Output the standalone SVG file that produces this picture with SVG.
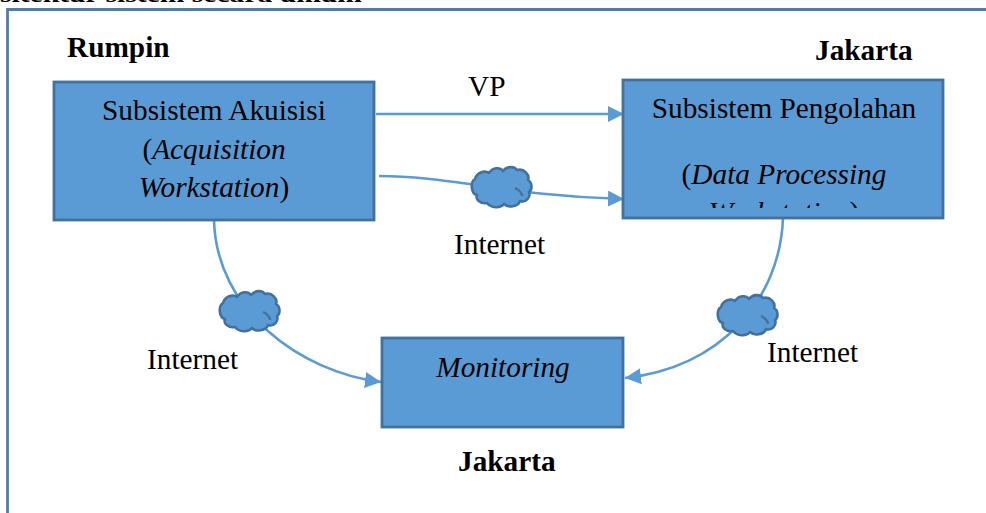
<svg xmlns="http://www.w3.org/2000/svg" width="986" height="513" viewBox="0 0 986 513">
<style>
text{font-family:"Liberation Serif","Times New Roman",serif;fill:#000;font-size:29.300px}
.b{font-weight:bold}
.i{font-style:italic}
.m{text-anchor:middle}
.box{fill:#5b9bd5;stroke:#41719c;stroke-width:2.800}
.cloud{fill:#5b9bd5;stroke:#41719c;stroke-width:2.600;stroke-linejoin:round}
.fold{fill:none;stroke:#41719c;stroke-width:2.400}
.c{fill:none;stroke:#5b9bd5;stroke-width:2.600;marker-end:url(#a)}
</style>
<defs>
<marker id="a" markerUnits="userSpaceOnUse" markerWidth="17" markerHeight="16" refX="16" refY="8" orient="auto"><path d="M0 0L16 8L0 16Z" fill="#5b9bd5"/></marker>
<path id="cl" d="M-26 -8C-24 -15 -16 -17 -12 -14C-8 -20 -1 -20 2 -16C6 -21 13 -21 16 -17C23 -19 29 -12 27 -7C32 -4 31 3 28 5C30 10 25 16 19 14C17 20 7 21 3 17C-1 22 -10 21 -14 16C-20 17 -26 13 -24 8C-30 7 -31 -5 -26 -8Z"/>
<clipPath id="wrap"><rect x="623" y="80" width="320" height="128"/></clipPath>
</defs>
<path d="M7.500 513V9.500H986" fill="none" stroke="#4f7eaa" stroke-width="2.800"/>
<text x="0" y="2" class="b" style="font-size:24px" textLength="362" lengthAdjust="spacingAndGlyphs">sitektur sistem secara umum</text>
<g id="connectors">
<path class="c" d="M376 114H624"/>
<path class="c" d="M379 176C450 176 510 196 624 199"/>
<path class="c" d="M214 220C216 310 300 372 381 382"/>
<path class="c" d="M783 218C780 300 720 368 625 378"/>
</g>
<g id="rumpin-label"><text x="67" y="57" class="b">Rumpin</text></g>
<g id="jakarta-label-top"><text x="815" y="60" class="b">Jakarta</text></g>
<g id="vp-label"><text x="468" y="96">VP</text></g>
<g id="akuisisi"><rect class="box" x="54" y="82" width="320" height="138"/>
<text x="214" y="120" class="m">Subsistem Akuisisi</text>
<text x="214" y="159" class="m">(<tspan class="i">Acquisition</tspan></text>
<text x="214" y="197" class="m"><tspan class="i">Workstation</tspan>)</text></g>
<g id="pengolahan"><rect class="box" x="623" y="80" width="320" height="138"/>
<text x="784" y="118" class="m">Subsistem Pengolahan</text>
<text x="784" y="184" class="m">(<tspan class="i">Data Processing</tspan></text>
<text x="784" y="222" class="m" clip-path="url(#wrap)"><tspan class="i">Workstation</tspan>)</text>
</g>
<g id="monitoring"><rect class="box" x="382" y="338" width="241" height="89"/>
<text x="503" y="377" class="m i">Monitoring</text></g>
<g id="cloud-top"><use href="#cl" class="cloud" x="501" y="187"/><path class="fold" d="M515 188C519 190 522 193 522 196"/></g>
<g id="cloud-left"><use href="#cl" class="cloud" x="249" y="311"/><path class="fold" d="M263 312C267 314 270 317 270 320"/></g>
<g id="cloud-right"><use href="#cl" class="cloud" x="747" y="315"/><path class="fold" d="M761 316C765 318 768 321 768 324"/></g>
<g id="internet-labels">
<text x="454" y="254">Internet</text>
<text x="147" y="369">Internet</text>
<text x="767" y="362">Internet</text></g>
<g id="jakarta-label-bottom"><text x="458" y="471" class="b">Jakarta</text></g>
</svg>
